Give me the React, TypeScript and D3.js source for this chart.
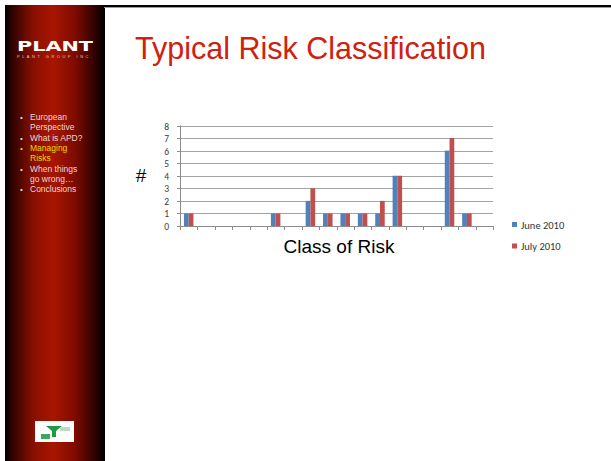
import { useEffect, useRef } from "react";
import * as d3 from "d3";

const CATEGORIES = d3.range(1, 19).map((i) => `C${i}`);
const JUNE_2010 = [1, 0, 0, 0, 0, 1, 0, 2, 1, 1, 1, 1, 4, 0, 0, 6, 1, 0];
const JULY_2010 = [1, 0, 0, 0, 0, 1, 0, 3, 1, 1, 1, 2, 4, 0, 0, 7, 1, 0];
const SERIES = [
  { name: "June 2010", color: "#4f81bd", values: JUNE_2010 },
  { name: "July 2010", color: "#c0504d", values: JULY_2010 },
];
const Y_TICKS = [0, 1, 2, 3, 4, 5, 6, 7, 8];

const MENU = [
  { lines: ["European", "Perspective"], active: false },
  { lines: ["What is APD?"], active: false },
  { lines: ["Managing", "Risks"], active: true },
  { lines: ["When things", "go wrong…"], active: false },
  { lines: ["Conclusions"], active: false },
];

const W = 611;
const H = 461;
const PLOT = { left: 180, right: 493, top: 125.5, bottom: 226 };
const LABEL_FONT = "Carlito, Lato, 'Open Sans', sans-serif";
const ARIAL = "'Liberation Sans', Arial, sans-serif";

export default function App() {
  const svgRef = useRef<SVGSVGElement>(null);

  useEffect(() => {
    const svg = d3.select(svgRef.current);
    svg.selectAll("*").remove();

    const defs = svg.append("defs");
    const grad = defs
      .append("linearGradient")
      .attr("id", "sidebar-grad")
      .attr("x1", "0%")
      .attr("x2", "100%");
    [
      [0, "#000000"],
      [0.07, "#2e0300"],
      [0.28, "#880f00"],
      [0.48, "#a81600"],
      [0.7, "#7e0b00"],
      [0.87, "#3a0300"],
      [1, "#000000"],
    ].forEach(([o, c]) => grad.append("stop").attr("offset", o as number).attr("stop-color", c as string));

    // background
    svg.append("rect").attr("width", W).attr("height", H).attr("fill", "#ffffff");

    // sidebar
    svg.append("rect").attr("x", 5).attr("y", 5).attr("width", 100).attr("height", H - 5).attr("fill", "url(#sidebar-grad)");
    svg.append("rect").attr("x", 104).attr("y", 5).attr("width", W - 104).attr("height", 2).attr("fill", "#000");
    svg.append("rect").attr("x", 104).attr("y", 7).attr("width", W - 104).attr("height", 1).attr("fill", "#9a9a9a");

    svg
      .append("text")
      .attr("x", 17)
      .attr("y", 51)
      .attr("fill", "#ffffff")
      .attr("font-family", "'DejaVu Sans', sans-serif")
      .attr("font-weight", 700)
      .attr("font-size", 14)
      .attr("textLength", 76)
      .attr("lengthAdjust", "spacingAndGlyphs")
      .text("PLANT");
    svg
      .append("text")
      .attr("x", 17)
      .attr("y", 58)
      .attr("fill", "#d8c8c8")
      .attr("font-family", ARIAL)
      .attr("font-size", 4)
      .attr("textLength", 75)
      .attr("lengthAdjust", "spacing")
      .text("PLANT GROUP INC.");

    let y = 120;
    MENU.forEach((item) => {
      const color = item.active ? "#f2d400" : "#ecd6d6";
      svg.append("text").attr("x", 20).attr("y", y).attr("fill", color).attr("font-family", ARIAL).attr("font-size", 8).text("•");
      item.lines.forEach((line) => {
        svg.append("text").attr("x", 30).attr("y", y).attr("fill", color).attr("font-family", ARIAL).attr("font-size", 8.5).text(line);
        y += 10.3;
      });
    });

    // bottom logo
    svg.append("rect").attr("x", 35).attr("y", 421).attr("width", 39).attr("height", 21).attr("fill", "#ffffff");
    svg.append("path").attr("d", "M46,426 L62,426 L56,431 L56,437 L52,437 L52,431 Z").attr("fill", "#1f9a45");
    svg.append("rect").attr("x", 41).attr("y", 434).attr("width", 9).attr("height", 5).attr("fill", "#3aa860");
    svg.append("rect").attr("x", 60).attr("y", 427).attr("width", 10).attr("height", 4).attr("fill", "#b9d9c0");

    // title
    svg
      .append("text")
      .attr("x", 135)
      .attr("y", 59)
      .attr("fill", "#d0200e")
      .attr("font-family", ARIAL)
      .attr("font-size", 30.5)
      .text("Typical Risk Classification");

    // chart
    const x0 = d3.scaleBand<string>().domain(CATEGORIES).range([PLOT.left, PLOT.right]).padding(0);
    const x1 = d3
      .scaleBand<string>()
      .domain(SERIES.map((s) => s.name))
      .range([0, x0.bandwidth()])
      .paddingInner(0)
      .paddingOuter(0.83);
    const yScale = d3.scaleLinear().domain([0, 8]).range([PLOT.bottom, PLOT.top]);

    const chart = svg.append("g");

    chart
      .selectAll("line.grid")
      .data(Y_TICKS.filter((t) => t > 0))
      .join("line")
      .attr("x1", PLOT.left)
      .attr("x2", PLOT.right)
      .attr("y1", (d) => Math.round(yScale(d)) + 0.5)
      .attr("y2", (d) => Math.round(yScale(d)) + 0.5)
      .attr("stroke", "#a3a3a3")
      .attr("stroke-width", 1);

    SERIES.forEach((s) => {
      chart
        .append("g")
        .selectAll("rect")
        .data(s.values.map((v, i) => ({ v, c: CATEGORIES[i] })).filter((d) => d.v > 0))
        .join("rect")
        .attr("x", (d) => (x0(d.c) ?? 0) + (x1(s.name) ?? 0))
        .attr("width", x1.bandwidth())
        .attr("y", (d) => yScale(d.v))
        .attr("height", (d) => yScale(0) - yScale(d.v))
        .attr("fill", s.color);
    });

    // y axis
    const yAxis = chart.append("g");
    yAxis
      .append("line")
      .attr("x1", PLOT.left + 0.5)
      .attr("x2", PLOT.left + 0.5)
      .attr("y1", PLOT.top)
      .attr("y2", PLOT.bottom)
      .attr("stroke", "#8c8c8c");
    Y_TICKS.forEach((t) => {
      const ty = Math.round(yScale(t)) + 0.5;
      yAxis.append("line").attr("x1", PLOT.left - 3).attr("x2", PLOT.left).attr("y1", ty).attr("y2", ty).attr("stroke", "#8c8c8c");
      yAxis
        .append("text")
        .attr("x", 169)
        .attr("y", ty + 3.3)
        .attr("text-anchor", "end")
        .attr("fill", "#3a3a3a")
        .attr("font-family", LABEL_FONT)
        .attr("font-size", 9.5)
        .text(t);
    });

    // x axis
    const xAxis = chart.append("g");
    xAxis
      .append("line")
      .attr("x1", PLOT.left)
      .attr("x2", PLOT.right)
      .attr("y1", PLOT.bottom + 0.5)
      .attr("y2", PLOT.bottom + 0.5)
      .attr("stroke", "#8c8c8c");
    const boundaries = [...CATEGORIES.map((c) => x0(c) ?? 0), PLOT.right];
    boundaries.forEach((bx) => {
      const px = Math.round(bx) + 0.5;
      xAxis.append("line").attr("x1", px).attr("x2", px).attr("y1", PLOT.bottom).attr("y2", PLOT.bottom + 4).attr("stroke", "#8c8c8c");
    });

    svg
      .append("text")
      .attr("x", 141)
      .attr("y", 182)
      .attr("text-anchor", "middle")
      .attr("fill", "#000")
      .attr("font-family", ARIAL)
      .attr("font-size", 19)
      .text("#");

    svg
      .append("text")
      .attr("x", 339)
      .attr("y", 253)
      .attr("text-anchor", "middle")
      .attr("fill", "#000")
      .attr("font-family", ARIAL)
      .attr("font-size", 19)
      .text("Class of Risk");

    // legend
    SERIES.forEach((s, i) => {
      const ly = 222 + i * 21.5;
      svg.append("rect").attr("x", 512).attr("y", ly).attr("width", 5).attr("height", 5).attr("fill", s.color);
      svg
        .append("text")
        .attr("x", 521)
        .attr("y", ly + 6.5)
        .attr("fill", "#333333")
        .attr("font-family", LABEL_FONT)
        .attr("font-size", 10.5)
        .text(s.name);
    });
  }, []);

  return (
    <svg
      ref={svgRef}
      width={W}
      height={H}
      style={{ position: "absolute", left: 0, top: 0, display: "block" }}
    />
  );
}
